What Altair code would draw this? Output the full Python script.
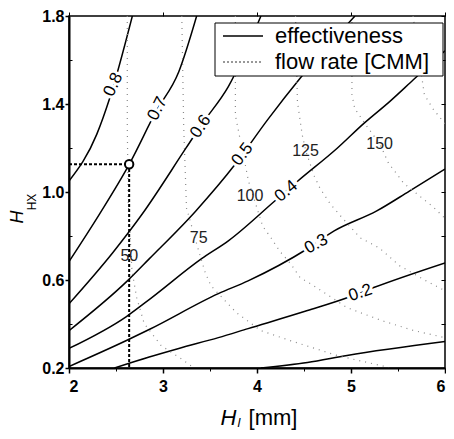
import altair as alt
import pandas as pd

# ---------------- data ----------------
# effectiveness contours (solid)
eff_levels = ["0.8", "0.7", "0.6", "0.5", "0.4", "0.3", "0.2", "0.1"]
e08_x = [2.0, 2.295, 2.432, 2.674]
e08_y = [1.050, 1.262, 1.425, 1.8]
e07_x = [2.0, 2.326, 2.642, 2.926, 3.168, 3.358]
e07_y = [0.684, 0.901, 1.127, 1.366, 1.547, 1.8]
e06_x = [2.0, 2.463, 2.779, 3.242, 3.411, 3.695, 4.042]
e06_y = [0.492, 0.723, 0.900, 1.198, 1.307, 1.479, 1.8]
e05_x = [2.0, 2.621, 2.853, 3.347, 3.768, 4.116, 4.463, 5.042]
e05_y = [0.370, 0.596, 0.696, 0.913, 1.126, 1.330, 1.519, 1.8]
e04_x = [2.0, 2.611, 2.853, 3.411, 3.695, 4.189, 4.432, 4.853, 5.137, 5.411, 5.663, 6.0]
e04_y = [0.289, 0.434, 0.511, 0.697, 0.778, 0.959, 1.049, 1.199, 1.312, 1.411, 1.510, 1.642]
e03_x = [2.0, 2.611, 2.853, 3.589, 3.905, 4.537, 4.821, 5.274, 5.621, 6.0]
e03_y = [0.207, 0.325, 0.375, 0.538, 0.596, 0.742, 0.823, 0.914, 1.004, 1.104]
e02_x = [2.484, 2.853, 3.168, 3.589, 3.905, 4.537, 4.989, 5.242, 6.0]
e02_y = [0.2, 0.250, 0.289, 0.338, 0.379, 0.461, 0.524, 0.566, 0.678]
e01_x = [4.042, 4.537, 4.958, 6.0]
e01_y = [0.2, 0.225, 0.257, 0.320]
eff_xs = [e08_x, e07_x, e06_x, e05_x, e04_x, e03_x, e02_x, e01_x]
eff_ys = [e08_y, e07_y, e06_y, e05_y, e04_y, e03_y, e02_y, e01_y]

# flow-rate contours (dotted)
flow_levels = ["50", "75", "100", "125", "150", "175"]
f50_x = [2.62, 2.62, 2.63, 2.67, 2.72, 2.80, 2.98, 3.19, 3.33]
f50_y = [1.8, 1.3, 0.958, 0.642, 0.520, 0.402, 0.302, 0.243, 0.2]
f75_x = [3.20, 3.22, 3.25, 3.38, 3.45, 3.51, 3.64, 3.78, 4.04, 4.35, 4.85, 5.40]
f75_y = [1.8, 1.30, 0.927, 0.732, 0.633, 0.574, 0.515, 0.452, 0.370, 0.325, 0.257, 0.203]
f100_x = [3.77, 3.77, 3.91, 4.06, 4.15, 4.24, 4.36, 4.46, 4.57, 4.96, 5.33, 5.67, 6.0]
f100_y = [1.8, 1.348, 1.049, 0.845, 0.791, 0.732, 0.673, 0.610, 0.583, 0.474, 0.415, 0.370, 0.338]
f125_x = [4.41, 4.43, 4.48, 4.52, 4.61, 4.67, 4.78, 4.91, 5.10, 5.30, 5.52, 5.80, 6.0]
f125_y = [1.8, 1.411, 1.262, 1.185, 1.072, 1.017, 0.945, 0.881, 0.791, 0.746, 0.664, 0.596, 0.551]
f150_x = [5.01, 5.01, 5.04, 5.17, 5.31, 5.40, 5.45, 5.56, 5.88, 6.0]
f150_y = [1.8, 1.443, 1.379, 1.298, 1.216, 1.130, 1.103, 1.040, 0.930, 0.880]
f175_x = [5.66, 5.78, 5.87, 6.0]
f175_y = [1.8, 1.443, 1.379, 1.31]
flow_xs = [f50_x, f75_x, f100_x, f125_x, f150_x, f175_x]
flow_ys = [f50_y, f75_y, f100_y, f125_y, f150_y, f175_y]

# contour labels
eff_lab_text = ["0.8", "0.7", "0.6", "0.5", "0.4", "0.3", "0.2"]
eff_lab_x = [2.47, 2.94, 3.40, 3.845, 4.31, 4.63, 5.10]
eff_lab_y = [1.488, 1.379, 1.298, 1.171, 1.004, 0.764, 0.542]
eff_lab_angle = [295, 297, 304, 307, 320, 331, 341]

flow_lab_text = ["50", "75", "100", "125", "150"]
flow_lab_x = [2.642, 3.379, 3.926, 4.516, 5.305]
flow_lab_y = [0.710, 0.791, 0.981, 1.185, 1.216]

# design point
pt_x = [2.64]
pt_y = [1.126]
guide_x = [2.0, 2.64, 2.64]
guide_y = [1.126, 1.126, 0.2]

x_ticks = [2, 3, 4, 5, 6]
x_minor = [2.5, 3.5, 4.5, 5.5]
y_ticks = [0.2, 0.6, 1.0, 1.4, 1.8]
y_minor = [0.4, 0.8, 1.2, 1.6]
y_all = [0.2, 0.4, 0.6, 0.8, 1.0, 1.2, 1.4, 1.6, 1.8]


def long_df(levels, xs, ys):
    rows = []
    for lev, xl, yl in zip(levels, xs, ys):
        for i, (a, b) in enumerate(zip(xl, yl)):
            rows.append({"level": lev, "i": i, "x": a, "y": b})
    return pd.DataFrame(rows)


eff_df = long_df(eff_levels, eff_xs, eff_ys)
flow_df = long_df(flow_levels, flow_xs, flow_ys)
eff_lab_df = pd.DataFrame({"t": eff_lab_text, "x": eff_lab_x, "y": eff_lab_y, "a": eff_lab_angle})
flow_lab_df = pd.DataFrame({"t": flow_lab_text, "x": flow_lab_x, "y": flow_lab_y})
pt_df = pd.DataFrame({"x": pt_x, "y": pt_y})
guide_df = pd.DataFrame({"x": guide_x, "y": guide_y, "i": [0, 1, 2]})

FONT = "Liberation Sans"
xs = alt.Scale(domain=[2, 6], nice=False, zero=False)
ys = alt.Scale(domain=[0.2, 1.8], nice=False, zero=False)

X0 = alt.X("x:Q", scale=xs, axis=None)
Y0 = alt.Y("y:Q", scale=ys, axis=None)

# ---------------- layers ----------------
eff = alt.Chart(eff_df).mark_line(
    color="black", strokeWidth=1.5, interpolate="monotone", clip=True
).encode(
    x=alt.X("x:Q", scale=xs, axis=alt.Axis(
        values=x_ticks, title=None, format="d", tickSize=5, tickColor="black",
        tickWidth=1.5, labelFont=FONT, labelFontSize=16, labelFontWeight="bold",
        labelColor="black", labelPadding=5, domainColor="black", domainWidth=2,
        grid=False)),
    y=alt.Y("y:Q", scale=ys, axis=alt.Axis(
        values=y_ticks, title=None, format=".1f", tickSize=4, tickColor="black",
        tickWidth=1.5, labelFont=FONT, labelFontSize=16, labelFontWeight="bold",
        labelColor="black", labelPadding=1, domainColor="black", domainWidth=2,
        grid=False)),
    detail="level:N", order="i:Q",
)

flow = alt.Chart(flow_df).mark_line(
    color="#888", strokeWidth=1.2, strokeDash=[1, 5], clip=True
).encode(x=X0, y=Y0, detail="level:N", order="i:Q")

halo = alt.Chart(eff_lab_df).mark_text(
    font=FONT, fontSize=17, color="white", stroke="white", strokeWidth=6,
    baseline="middle", align="center"
).encode(x=X0, y=Y0, text="t:N", angle=alt.Angle("a:Q", scale=None))

eff_lab = alt.Chart(eff_lab_df).mark_text(
    font=FONT, fontSize=17, color="black", baseline="middle", align="center"
).encode(x=X0, y=Y0, text="t:N", angle=alt.Angle("a:Q", scale=None))

flow_lab = alt.Chart(flow_lab_df).mark_text(
    font=FONT, fontSize=16, color="#222", baseline="middle", align="center"
).encode(x=X0, y=Y0, text="t:N")

guide = alt.Chart(guide_df).mark_line(
    color="black", strokeWidth=2, strokeDash=[3, 2]
).encode(x=X0, y=Y0, order="i:Q")

point = alt.Chart(pt_df).mark_point(
    shape="circle", size=70, filled=True, fill="white", stroke="black", strokeWidth=2, opacity=1
).encode(x=X0, y=Y0)

# secondary axes: top & right ticks, minor ticks
sec = alt.Chart(pt_df).mark_point(opacity=0).encode(
    x=alt.X("x:Q", scale=xs, axis=alt.Axis(
        orient="top", values=x_ticks, labels=False, title=None, tickSize=4,
        tickColor="black", domain=False, grid=False)),
    y=alt.Y("y:Q", scale=ys, axis=alt.Axis(
        orient="right", values=y_all, labels=False, title=None, tickSize=4,
        offset=-4, tickColor="black", domain=False, grid=False)),
)
minor = alt.Chart(pt_df).mark_point(opacity=0).encode(
    x=alt.X("x:Q", scale=xs, axis=alt.Axis(
        orient="bottom", values=x_minor, labels=False, title=None, tickSize=3,
        tickColor="black", domain=False, grid=False)),
    y=alt.Y("y:Q", scale=ys, axis=alt.Axis(
        orient="left", values=y_minor, labels=False, title=None, tickSize=3,
        offset=-3, tickColor="black", domain=False, grid=False)),
)

# ---------------- legend (drawn) ----------------
one = pd.DataFrame({"k": [0]})
leg_box = alt.Chart(one).mark_rect(fill="white", stroke="black", strokeWidth=1).encode(
    x=alt.value(146), x2=alt.value(374), y=alt.value(7), y2=alt.value(60))
leg_solid = alt.Chart(one).mark_rule(color="black", strokeWidth=1.6).encode(
    x=alt.value(154), x2=alt.value(194), y=alt.value(20))
leg_dot = alt.Chart(one).mark_rule(color="#333", strokeWidth=1.2, strokeDash=[2, 2]).encode(
    x=alt.value(154), x2=alt.value(194), y=alt.value(46))
leg_t1 = alt.Chart(one).mark_text(text="effectiveness", font=FONT, fontSize=22, align="left",
                                  baseline="middle", color="black").encode(
    x=alt.value(206), y=alt.value(20))
leg_t2 = alt.Chart(one).mark_text(text="flow rate [CMM]", font=FONT, fontSize=22, align="left",
                                  baseline="middle", color="black").encode(
    x=alt.value(206), y=alt.value(46))

# ---------------- axis titles (drawn, with subscripts) ----------------
xt_H = alt.Chart(one).mark_text(text="H", font=FONT, fontSize=22, fontStyle="italic",
                                align="center", baseline="alphabetic", color="black").encode(
    x=alt.value(159.5), y=alt.value(409))
xt_l = alt.Chart(one).mark_text(text="l", font=FONT, fontSize=13, fontStyle="italic",
                                align="center", baseline="alphabetic", color="black").encode(
    x=alt.value(170), y=alt.value(411))
xt_mm = alt.Chart(one).mark_text(text="[mm]", font=FONT, fontSize=22,
                                 align="center", baseline="alphabetic", color="black").encode(
    x=alt.value(204), y=alt.value(409))
yt_H = alt.Chart(one).mark_text(text="H", font=FONT, fontSize=18, fontStyle="italic", angle=270,
                                align="center", baseline="alphabetic", color="black").encode(
    x=alt.value(-46), y=alt.value(201))
yt_HX = alt.Chart(one).mark_text(text="HX", font=FONT, fontSize=12, angle=270,
                                 align="center", baseline="alphabetic", color="black").encode(
    x=alt.value(-33), y=alt.value(186))

chart = alt.layer(
    eff, flow, halo, eff_lab, flow_lab, guide, point, sec, minor,
    leg_box, leg_solid, leg_dot, leg_t1, leg_t2,
    xt_H, xt_l, xt_mm, yt_H, yt_HX,
).resolve_axis(
    x="independent", y="independent"
).properties(
    width=376, height=352,
    autosize=alt.AutoSizeParams(type="none"),
    padding={"left": 61, "top": 8, "right": 1, "bottom": 63},
    background="white",
).configure_view(stroke="black", strokeWidth=1.5)

chart.save("out.html", embed_options={"renderer": "svg", "actions": False})
